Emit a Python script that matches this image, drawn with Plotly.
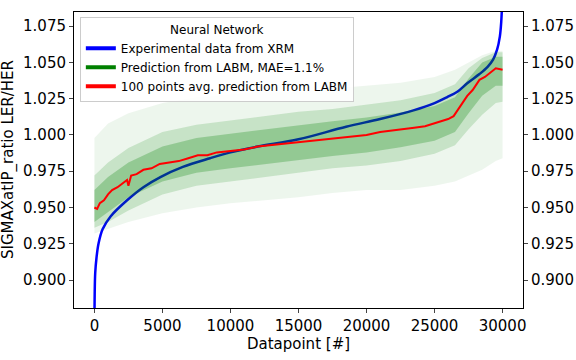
import plotly.graph_objects as go

# Experimental data from XRM (sorted)
exp_x = [0, 20, 60, 150, 300, 600, 1200, 2400, 3600, 4850, 6500, 8500, 10000, 12000,
         15000, 18500, 21000, 23450, 25000, 25900, 26700, 27400, 28300, 28900, 29300,
         29600, 29800, 29900, 29960]
exp_y = [0.86, 0.89, 0.905, 0.915, 0.925, 0.935, 0.944, 0.955, 0.964, 0.971, 0.978,
         0.984, 0.988, 0.992, 0.997, 1.0057, 1.011, 1.017, 1.022, 1.026, 1.030, 1.0357,
         1.042, 1.047, 1.052, 1.059, 1.068, 1.078, 1.09]

# Envelopes of the LABM prediction cloud (faint outer, middle, dense core)
pred_x = [0, 1000, 2500, 5000, 7500, 10000, 12500, 15000, 17500, 20000, 22500, 25000,
          26500, 27500, 28500, 29500, 29999]
pred_hi = [0.998, 1.008, 1.015, 1.022, 1.026, 1.028, 1.030, 1.030, 1.032, 1.034, 1.036,
           1.040, 1.045, 1.050, 1.055, 1.058, 1.058]
pred_lo = [0.932, 0.935, 0.940, 0.946, 0.950, 0.953, 0.955, 0.957, 0.960, 0.962, 0.962,
           0.965, 0.968, 0.972, 0.976, 0.982, 0.984]
mid_hi = [0.972, 0.981, 0.991, 1.002, 1.007, 1.010, 1.013, 1.016, 1.018, 1.021, 1.024,
          1.029, 1.035, 1.046, 1.053, 1.057, 1.057]
mid_lo = [0.936, 0.940, 0.948, 0.959, 0.965, 0.968, 0.971, 0.974, 0.977, 0.979, 0.982,
          0.987, 0.993, 1.004, 1.014, 1.022, 1.023]
core_hi = [0.962, 0.971, 0.981, 0.992, 0.998, 1.001, 1.004, 1.007, 1.0095, 1.012, 1.0155,
           1.020, 1.026, 1.039, 1.050, 1.054, 1.054]
core_lo = [0.940, 0.947, 0.957, 0.968, 0.974, 0.977, 0.980, 0.983, 0.9855, 0.988, 0.9915,
           0.996, 1.002, 1.015, 1.027, 1.034, 1.034]

# 100 points average of the prediction
avg_x = [0, 200, 400, 700, 1000, 1300, 1700, 2000, 2400, 2500, 2700, 3100, 3600, 4200,
         4800, 5500, 6200, 6900, 7600, 8300, 9000, 10000, 11000, 12000, 13000, 14000,
         15000, 16000, 17000, 18000, 19000, 20000, 21000, 22000, 22800, 23500, 24300,
         25000, 25600, 26000, 26400, 26700, 27000, 27400, 27800, 28300, 28700, 29100,
         29500, 29999]
avg_y = [0.950, 0.949, 0.953, 0.955, 0.959, 0.962, 0.964, 0.966, 0.969, 0.965, 0.972,
         0.973, 0.976, 0.977, 0.980, 0.981, 0.982, 0.984, 0.986, 0.986, 0.988, 0.989,
         0.990, 0.992, 0.993, 0.994, 0.995, 0.996, 0.997, 0.998, 0.999, 1.000, 1.002,
         1.003, 1.004, 1.005, 1.006, 1.008, 1.010, 1.011, 1.013, 1.017, 1.021, 1.027,
         1.031, 1.038, 1.040, 1.043, 1.046, 1.045]

y_ticks = [0.900, 0.925, 0.950, 0.975, 1.000, 1.025, 1.050, 1.075]
x_ticks = [0, 5000, 10000, 15000, 20000, 25000, 30000]

fig = go.Figure()

fig.add_trace(go.Scatter(x=exp_x, y=exp_y, mode='lines', line=dict(color='#0000ff', width=2.5),
                         line_shape='spline', showlegend=False))

# green cloud drawn as stacked translucent bands
for lo, hi, alpha in [(pred_lo, pred_hi, 0.07), (mid_lo, mid_hi, 0.16), (core_lo, core_hi, 0.26)]:
    fig.add_trace(go.Scatter(x=pred_x, y=lo, mode='lines', line=dict(width=0),
                             showlegend=False, hoverinfo='skip'))
    fig.add_trace(go.Scatter(x=pred_x, y=hi, mode='lines', line=dict(width=0),
                             fill='tonexty', fillcolor=f'rgba(0,128,0,{alpha})',
                             showlegend=False, hoverinfo='skip'))

fig.add_trace(go.Scatter(x=avg_x, y=avg_y, mode='lines', line=dict(color='#ff0000', width=2),
                         showlegend=False))

# legend entries
fig.add_trace(go.Scatter(x=[None], y=[None], mode='lines', line=dict(color='#0000ff', width=4),
                         name='Experimental data from XRM'))
fig.add_trace(go.Scatter(x=[None], y=[None], mode='lines', line=dict(color='#008000', width=4),
                         name='Prediction from LABM, MAE=1.1%'))
fig.add_trace(go.Scatter(x=[None], y=[None], mode='lines', line=dict(color='#ff0000', width=4),
                         name='100 points avg. prediction from LABM'))

# right-hand copy of the y axis
fig.add_trace(go.Scatter(x=[None], y=[None], yaxis='y2', showlegend=False))

axis_font = dict(family='DejaVu Sans', size=15, color='black')
fig.update_layout(
    width=576, height=360,
    margin=dict(l=74, r=53, t=12, b=52),
    paper_bgcolor='white', plot_bgcolor='white',
    font=dict(family='DejaVu Sans', size=12, color='black'),
    xaxis=dict(range=[-1500, 31500], tickvals=x_ticks, ticktext=[str(v) for v in x_ticks],
               ticks='outside', ticklen=4, showgrid=False, zeroline=False, showline=True,
               linecolor='black', mirror=True, tickfont=axis_font, automargin=False,
               title=dict(text='Datapoint [#]', font=axis_font, standoff=2)),
    yaxis=dict(range=[0.8807, 1.0848], tickvals=y_ticks, tickformat='.3f', ticks='outside',
               ticklen=4, showgrid=False, zeroline=False, showline=True, linecolor='black',
               tickfont=axis_font, automargin=False),
    yaxis2=dict(range=[0.8807, 1.0848], tickvals=y_ticks, tickformat='.3f', ticks='outside',
                ticklen=4, showgrid=False, zeroline=False, showline=True, linecolor='black',
                overlaying='y', side='right', tickfont=axis_font, automargin=False),
    legend=dict(x=0.013, y=0.983, xanchor='left', yanchor='top', traceorder='normal',
                bgcolor='rgba(255,255,255,0.85)', bordercolor='#cccccc', borderwidth=1,
                font=dict(family='DejaVu Sans', size=12, color='black'),
                title=dict(text='Neural Network', side='top center',
                           font=dict(family='DejaVu Sans', size=12, color='black')),
                itemwidth=30, tracegroupgap=0),
)

# y-axis title placed by hand so it clears the tick labels
fig.add_annotation(text='SIGMAXatIP_ratio LER/HER', textangle=-90, font=axis_font,
                   xref='paper', yref='paper', x=0, y=0.5, xshift=-66,
                   xanchor='center', yanchor='middle', showarrow=False)

# drop the default page margin so the figure sits at the window's corner
fig.write_html('out.html', config={'displayModeBar': False},
               post_script="document.body.style.margin='0';")
